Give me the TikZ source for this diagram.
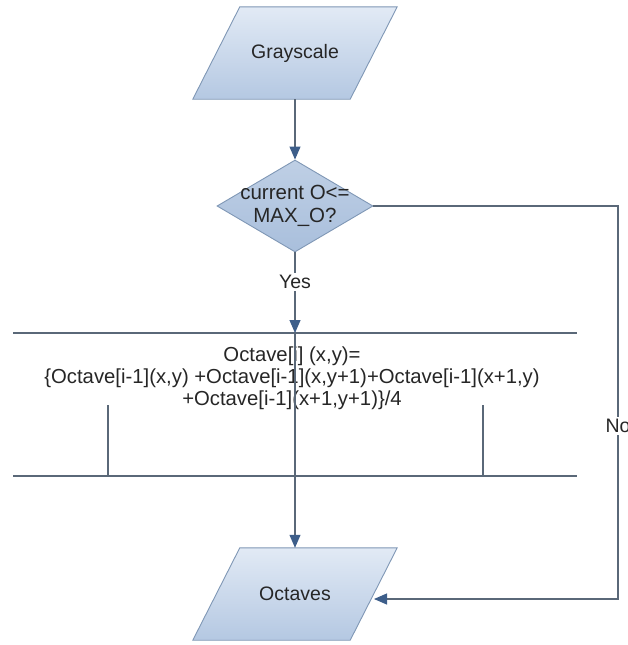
\documentclass[tikz,border=0pt]{standalone}
\usepackage{fontspec}
\setmainfont{Liberation Sans}
\usetikzlibrary{shapes.geometric,arrows.meta}
\pgfdeclarelayer{background}
\pgfsetlayers{background,main}
\definecolor{lineC}{HTML}{5A6878}
\definecolor{arrC}{HTML}{3D5E8A}
\definecolor{edgeC}{HTML}{7F97B5}
\definecolor{topC}{HTML}{E2EAF5}
\definecolor{botC}{HTML}{B4C8E2}
\definecolor{diaC}{HTML}{A9BFDC}
\tikzset{
  iobox/.style={rectangle, minimum width=157pt, minimum height=92pt,
    font=\fontsize{19.5}{22}\selectfont, text=black!85, inner sep=0pt},
  ioshape/.style={draw=edgeC, line width=0.9pt, top color=topC, bottom color=botC},
  decbox/.style={diamond, aspect=1.7, minimum width=156pt, minimum height=92pt,
    draw=edgeC, line width=0.9pt, top color=diaC!75!white, bottom color=diaC,
    font=\fontsize{20.5}{23}\selectfont,
    align=center, inner sep=0pt, text=black!85},
  conn/.style={draw=lineC, line width=1.1pt},
  arr/.style={conn, -{Triangle[width=11pt,length=13pt,fill=arrC,color=arrC]}},
  lbl/.style={fill=white, font=\fontsize{19.5}{22}\selectfont, inner sep=2pt, text=black!85},
  proctext/.style={align=center, font=\fontsize{20.3}{22}\selectfont, text=black!85}
}
\newcommand{\ioshapeof}[1]{%
  \begin{pgfonlayer}{background}
  \path[ioshape] ([xshift=23.5pt]#1.north west) -- ([xshift=23.5pt]#1.north east)
    -- ([xshift=-23.5pt]#1.south east) -- ([xshift=-23.5pt]#1.south west) -- cycle;
  \end{pgfonlayer}}
\begin{document}
\begin{tikzpicture}[x=1pt,y=-1pt]
\useasboundingbox (0,0) rectangle (627,645);
\node[iobox] (gray) at (295,53) {Grayscale};
\ioshapeof{gray}
\node[decbox] (dec) at (295,206) {\makebox[0pt]{current O<=}\\\makebox[0pt]{MAX\_O?}};
\node[proctext] (proc) at (292,378) {Octave[i] (x,y)=\\\{Octave[i-1](x,y) +Octave[i-1](x,y+1)+Octave[i-1](x+1,y)\\+Octave[i-1](x+1,y+1)\}/4};
\node[iobox] (oct) at (295,594) {Octaves};
\ioshapeof{oct}
\coordinate (ptop) at (295,333);
\coordinate (tl) at (13,333);
\coordinate (tr) at (577,333);
\coordinate (bl) at (13,476);
\coordinate (br) at (577,476);
\coordinate (sl1) at (108,405);
\coordinate (sl2) at (108,476);
\coordinate (sr1) at (483,405);
\coordinate (sr2) at (483,476);
\coordinate (ncorner1) at (618,206);
\coordinate (ncorner2) at (618,599);
\coordinate (octin) at (374,599);
% process block lines
\draw[conn] (tl) -- (tr);
\draw[conn] (bl) -- (br);
\draw[conn] (sl1) -- (sl2);
\draw[conn] (sr1) -- (sr2);
% connectors
\draw[arr] (gray.south) -- (dec.north);
\draw[arr] (dec.south) -- node[lbl, pos=0.37] {Yes} (ptop);
\draw[arr] (ptop) -- (oct.north);
\draw[arr] (dec.east) -- (ncorner1) -- node[lbl, pos=0.56] {No} (ncorner2) -- (octin);
\end{tikzpicture}
\end{document}
